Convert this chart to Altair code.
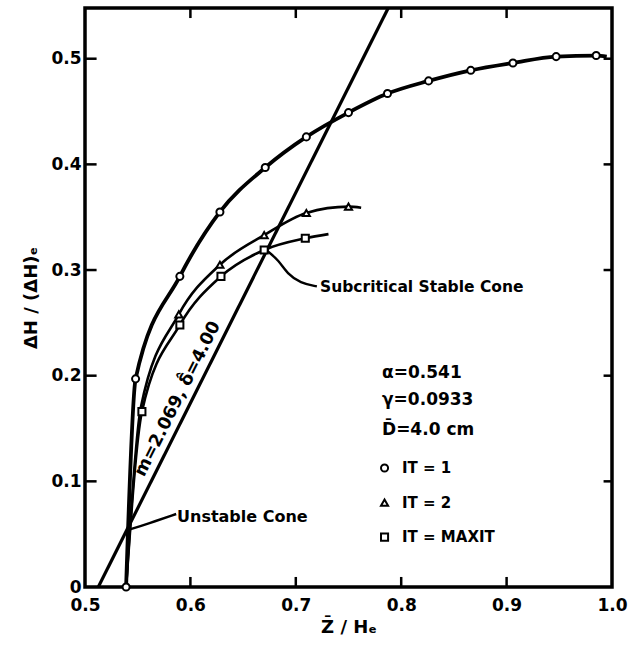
import altair as alt
import pandas as pd

# ---- data ----
series_names = ["IT = 1", "IT = 2", "IT = MAXIT"]
series_shapes = ["circle", "triangle-up", "square"]

it1_x = [0.539, 0.548, 0.590, 0.628, 0.671, 0.710, 0.750, 0.787, 0.826, 0.866, 0.906, 0.947, 0.985, 0.995]
it1_y = [0.000, 0.197, 0.294, 0.355, 0.397, 0.426, 0.449, 0.467, 0.479, 0.489, 0.496, 0.502, 0.503, 0.502]
it1_marked = [1, 1, 1, 1, 1, 1, 1, 1, 1, 1, 1, 1, 1, 0]

it2_x = [0.539, 0.553, 0.589, 0.628, 0.670, 0.710, 0.750, 0.762]
it2_y = [0.000, 0.170, 0.258, 0.305, 0.333, 0.354, 0.360, 0.359]
it2_marked = [0, 0, 1, 1, 1, 1, 1, 0]

maxit_x = [0.539, 0.554, 0.590, 0.629, 0.670, 0.709, 0.731]
maxit_y = [0.000, 0.166, 0.248, 0.294, 0.319, 0.330, 0.334]
maxit_marked = [0, 1, 1, 1, 1, 1, 0]

cone_line_x = [0.5126, 0.7877]
cone_line_y = [0.000, 0.548]

x_ticks = [0.5, 0.6, 0.7, 0.8, 0.9, 1.0]
y_ticks = [0.0, 0.1, 0.2, 0.3, 0.4, 0.5]
x_inner_ticks = [0.6, 0.7, 0.8, 0.9]
y_inner_ticks = [0.1, 0.2, 0.3, 0.4, 0.5]

X_DOM = [0.5, 1.0]
Y_DOM = [0.0, 0.548]

FONT = "DejaVu Sans"

rows = []
for name, xs, ys, ms in [
    (series_names[0], it1_x, it1_y, it1_marked),
    (series_names[1], it2_x, it2_y, it2_marked),
    (series_names[2], maxit_x, maxit_y, maxit_marked),
]:
    for i, (a, b, m) in enumerate(zip(xs, ys, ms)):
        rows.append({"series": name, "x": a, "y": b, "marked": m, "order": i})
df = pd.DataFrame(rows)

xscale = alt.Scale(domain=X_DOM, nice=False, zero=False)
yscale = alt.Scale(domain=Y_DOM, nice=False, zero=False)
shape_scale = alt.Scale(domain=series_names, range=series_shapes)

x_axis = alt.Axis(values=x_ticks, format=".1f", title="Z̄ / Hₑ", tickSize=0, domain=False,
                  grid=False, labelPadding=10, titlePadding=5, labelFlush=False)
y_axis = alt.Axis(values=y_ticks, title="ΔH / (ΔH)ₑ", tickSize=0, domain=False, grid=False,
                  labelExpr="datum.value == 0 ? '0\u00a0' : format(datum.value, '.1f')",
                  labelPadding=4, titlePadding=10, labelFlush=False)

base = alt.Chart(df)

def curve(name, width):
    return base.transform_filter(alt.datum.series == name).mark_line(
        color="black", strokeWidth=width, interpolate="monotone"
    ).encode(
        x=alt.X("x:Q", scale=xscale, axis=x_axis),
        y=alt.Y("y:Q", scale=yscale, axis=y_axis),
        order="order:Q",
    )

lines = [curve(series_names[0], 3.8), curve(series_names[1], 2.6), curve(series_names[2], 2.6)]

point_style = dict(filled=False, fill="white", color="black", stroke="black",
                   strokeWidth=2, size=50, opacity=1)

markers = base.transform_filter(alt.datum.marked == 1).mark_point(**point_style).encode(
    x=alt.X("x:Q", scale=xscale),
    y=alt.Y("y:Q", scale=yscale),
    shape=alt.Shape("series:N", scale=shape_scale, legend=None),
)

# legend drawn inside the plot (symbol + label)
leg_df = pd.DataFrame({"series": series_names, "row": list(range(len(series_names)))})
leg_base = alt.Chart(leg_df).transform_calculate(ly="0.1126 - datum.row * 0.0327")
leg_symbols = leg_base.mark_point(**point_style).encode(
    x=alt.datum(0.7842),
    y=alt.Y("ly:Q", scale=yscale),
    shape=alt.Shape("series:N", scale=shape_scale, legend=None),
)
leg_labels = leg_base.mark_text(
    font=FONT, fontSize=15, fontWeight="bold", color="black", align="left", baseline="middle"
).encode(x=alt.datum(0.8008), y=alt.Y("ly:Q", scale=yscale), text="series:N")

cone_df = pd.DataFrame({"x": cone_line_x, "y": cone_line_y})
cone = alt.Chart(cone_df).mark_line(color="black", strokeWidth=3.2).encode(
    x=alt.X("x:Q", scale=xscale), y=alt.Y("y:Q", scale=yscale)
)

# inward ticks
xt = pd.DataFrame({"v": x_inner_ticks})
yt = pd.DataFrame({"v": y_inner_ticks})
TY = 0.0095
tick_bottom = alt.Chart(xt).mark_rule(color="black", strokeWidth=2.5).encode(
    x=alt.X("v:Q", scale=xscale), y=alt.datum(Y_DOM[0]), y2=alt.datum(Y_DOM[0] + TY))
tick_top = alt.Chart(xt).mark_rule(color="black", strokeWidth=2.5).encode(
    x=alt.X("v:Q", scale=xscale), y=alt.datum(Y_DOM[1]), y2=alt.datum(Y_DOM[1] - TY))
tick_left = alt.Chart(yt).mark_rule(color="black", strokeWidth=2.5).encode(
    y=alt.Y("v:Q", scale=yscale), x=alt.datum(X_DOM[0]), x2=alt.datum(X_DOM[0] + 0.011))
tick_right = alt.Chart(yt).mark_rule(color="black", strokeWidth=2.5).encode(
    y=alt.Y("v:Q", scale=yscale), x=alt.datum(X_DOM[1]), x2=alt.datum(X_DOM[1] - 0.008))

def label(text, x, y, size=16, angle=0, align="left"):
    return alt.Chart(pd.DataFrame({"t": [text]})).mark_text(
        font=FONT, fontSize=size, fontWeight="bold", color="black",
        align=align, baseline="middle", angle=angle,
    ).encode(text="t:N", x=alt.datum(x), y=alt.datum(y))

def leader(xs, ys, w=2.4):
    return alt.Chart(pd.DataFrame({"x": xs, "y": ys, "o": list(range(len(xs)))})).mark_line(
        color="black", strokeWidth=w, interpolate="basis"
    ).encode(x=alt.X("x:Q", scale=xscale), y=alt.Y("y:Q", scale=yscale), order="o:Q")

annotations = [
    label("α=0.541", 0.7818, 0.2025, 17),
    label("γ=0.0933", 0.7818, 0.1770, 17),
    label("D̄=4.0 cm", 0.7818, 0.1486, 17),
    label("Subcritical Stable Cone", 0.7230, 0.2839, 15.5),
    label("Unstable Cone", 0.5873, 0.0663, 16),
    label("m=2.069, δ̂=4.00", 0.5880, 0.178, 17.5, angle=296.6, align="center"),
    leader([0.673, 0.6835, 0.692, 0.7044, 0.7200], [0.3180, 0.3095, 0.2963, 0.2877, 0.2845]),
    leader([0.5409, 0.560, 0.5865], [0.0539, 0.0600, 0.0691]),
]

chart = alt.layer(
    cone, *lines, markers, leg_symbols, leg_labels,
    tick_bottom, tick_top, tick_left, tick_right, *annotations
).properties(
    width=527, height=579,
    background="white",
    padding={"left": 85, "top": 8, "right": 16, "bottom": 67},
    autosize=alt.AutoSizeParams(type="none"),
).configure_view(
    stroke="black", strokeWidth=3.5
).configure_axis(
    labelFont=FONT, labelFontSize=17, labelFontWeight="bold", labelColor="black",
    titleFont=FONT, titleFontSize=18, titleFontWeight="bold", titleColor="black",
)

chart.save("out.html", embed_options={"renderer": "svg", "actions": False})
